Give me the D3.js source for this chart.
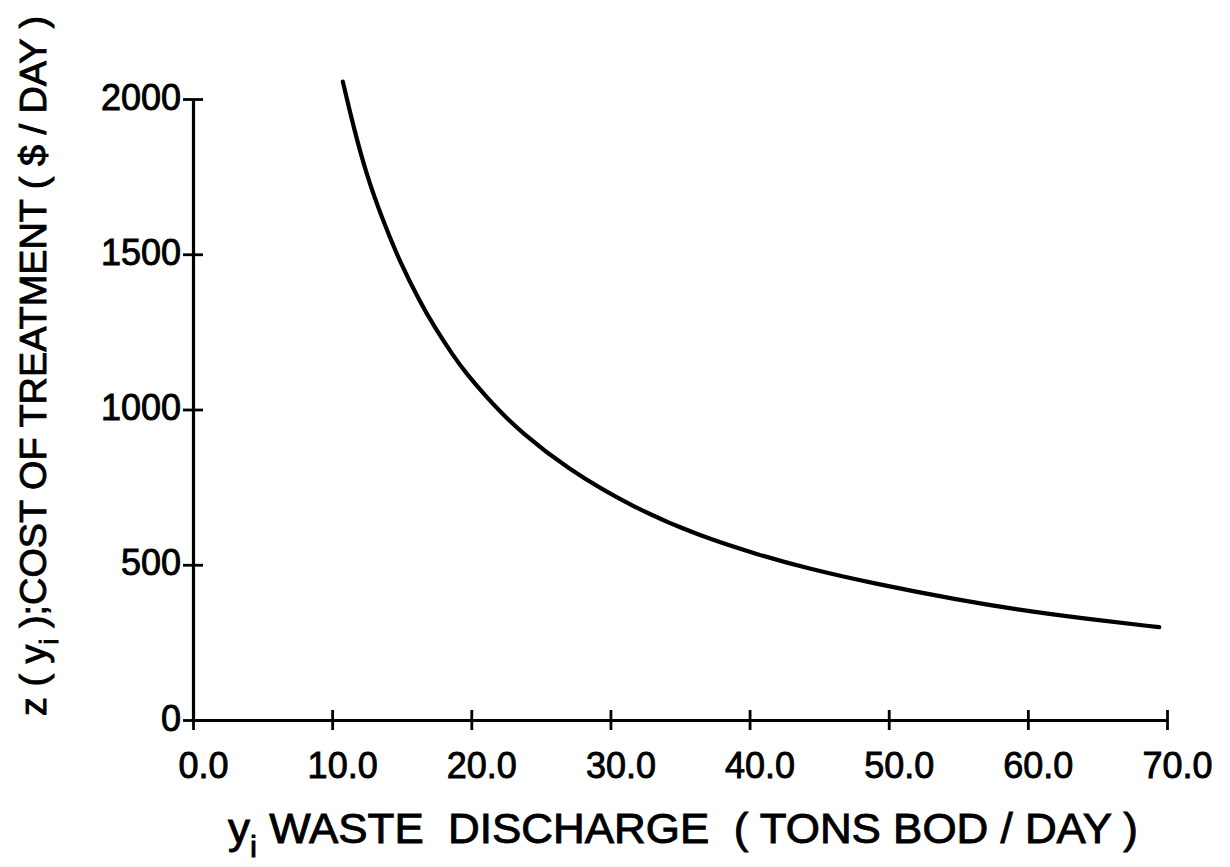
<!DOCTYPE html>
<html>
<head>
<meta charset="utf-8">
<script src="https://cdn.jsdelivr.net/npm/d3@7"></script>
<style>
  html, body { margin: 0; padding: 0; background: #fff; }
  svg text { font-family: "Liberation Sans", Arial, sans-serif; fill: #000; stroke: #000; stroke-width: 0.9px; }
</style>
</head>
<body>
<svg id="chart" width="1230" height="867"></svg>
<script>
// Data
const wasteDischarge = [10.77, 11.53, 12.49, 13.68, 14.88, 16.32, 17.27, 18.71, 19.67, 21.1, 22.06, 23.5, 26.85, 31.63, 36.42, 40.73, 44.08, 48.86, 55.08, 59.15, 63.93, 69.44];
const treatmentCost  = [2056, 1911, 1752, 1605, 1474, 1346, 1272, 1172, 1114, 1040, 994, 930, 810, 684, 592, 531, 489, 440, 386, 356, 327, 299];
const xTicks = [0, 10, 20, 30, 40, 50, 60, 70];
const xTickLabels = ["0.0", "10.0", "20.0", "30.0", "40.0", "50.0", "60.0", "70.0"];
const yTicks = [0, 500, 1000, 1500, 2000];
const yTickLabels = ["0", "500", "1000", "1500", "2000"];

const svg = d3.select("#chart");
const x = d3.scaleLinear().domain([0, 70]).range([193, 1167]);
const y = d3.scaleLinear().domain([0, 2000]).range([720, 99]);

// X axis
const xAxis = svg.append("g").attr("transform", `translate(0,${y(0)})`)
  .call(d3.axisBottom(x).tickValues(xTicks).tickSizeOuter(0).tickSizeInner(10)
    .tickFormat((d, i) => xTickLabels[i]));
xAxis.select(".domain").attr("stroke", "#000").attr("stroke-width", 3.2);
xAxis.selectAll(".tick line").attr("y1", -10).attr("y2", 10).attr("stroke", "#000").attr("stroke-width", 2.8);
xAxis.selectAll(".tick text").attr("y", 58).attr("dy", 0).attr("dx", 10)
  .style("font-size", "36px").style("font-family", "Liberation Sans, Arial, sans-serif");

// Y axis
const yAxis = svg.append("g").attr("transform", `translate(${x(0)},0)`)
  .call(d3.axisLeft(y).tickValues(yTicks).tickSizeOuter(0).tickSizeInner(10)
    .tickFormat((d, i) => yTickLabels[i]));
yAxis.select(".domain").attr("stroke", "#000").attr("stroke-width", 3.2);
yAxis.selectAll(".tick line").attr("x1", -10).attr("x2", 10).attr("stroke", "#000").attr("stroke-width", 2.8);
yAxis.selectAll(".tick text").attr("x", -12).attr("dy", 10)
  .style("font-size", "36px").style("font-family", "Liberation Sans, Arial, sans-serif");
svg.selectAll(".domain").attr("fill", "none");

// Curve
const pts = wasteDischarge.map((v, i) => [v, treatmentCost[i]]);
const lineGen = d3.line().x(d => x(d[0])).y(d => y(d[1])).curve(d3.curveBasis);
svg.append("path").datum(pts)
  .attr("d", lineGen)
  .attr("fill", "none").attr("stroke", "#000").attr("stroke-width", 4.2)
  .attr("stroke-linecap", "round");

// X title
const xt = svg.append("text").attr("x", 228).attr("y", 843)
  .attr("textLength", 910).attr("lengthAdjust", "spacingAndGlyphs")
  .style("font-size", "42px").style("white-space", "pre");
xt.append("tspan").text("y");
xt.append("tspan").attr("dy", 14).style("font-size", "30px").text("i");
xt.append("tspan").attr("dy", -14).text(" WASTE  DISCHARGE  ( TONS BOD / DAY )");

// Y title
const yt = svg.append("text").attr("transform", "translate(46,716) rotate(-90)")
  .attr("x", 0).attr("y", 0)
  .attr("textLength", 700).attr("lengthAdjust", "spacingAndGlyphs")
  .style("font-size", "37px").style("white-space", "pre");
yt.append("tspan").text("z ( y");
yt.append("tspan").attr("dy", 12).style("font-size", "26px").text("i");
yt.append("tspan").attr("dy", -12).text(" );COST OF TREATMENT ( $ / DAY )");
</script>
</body>
</html>
